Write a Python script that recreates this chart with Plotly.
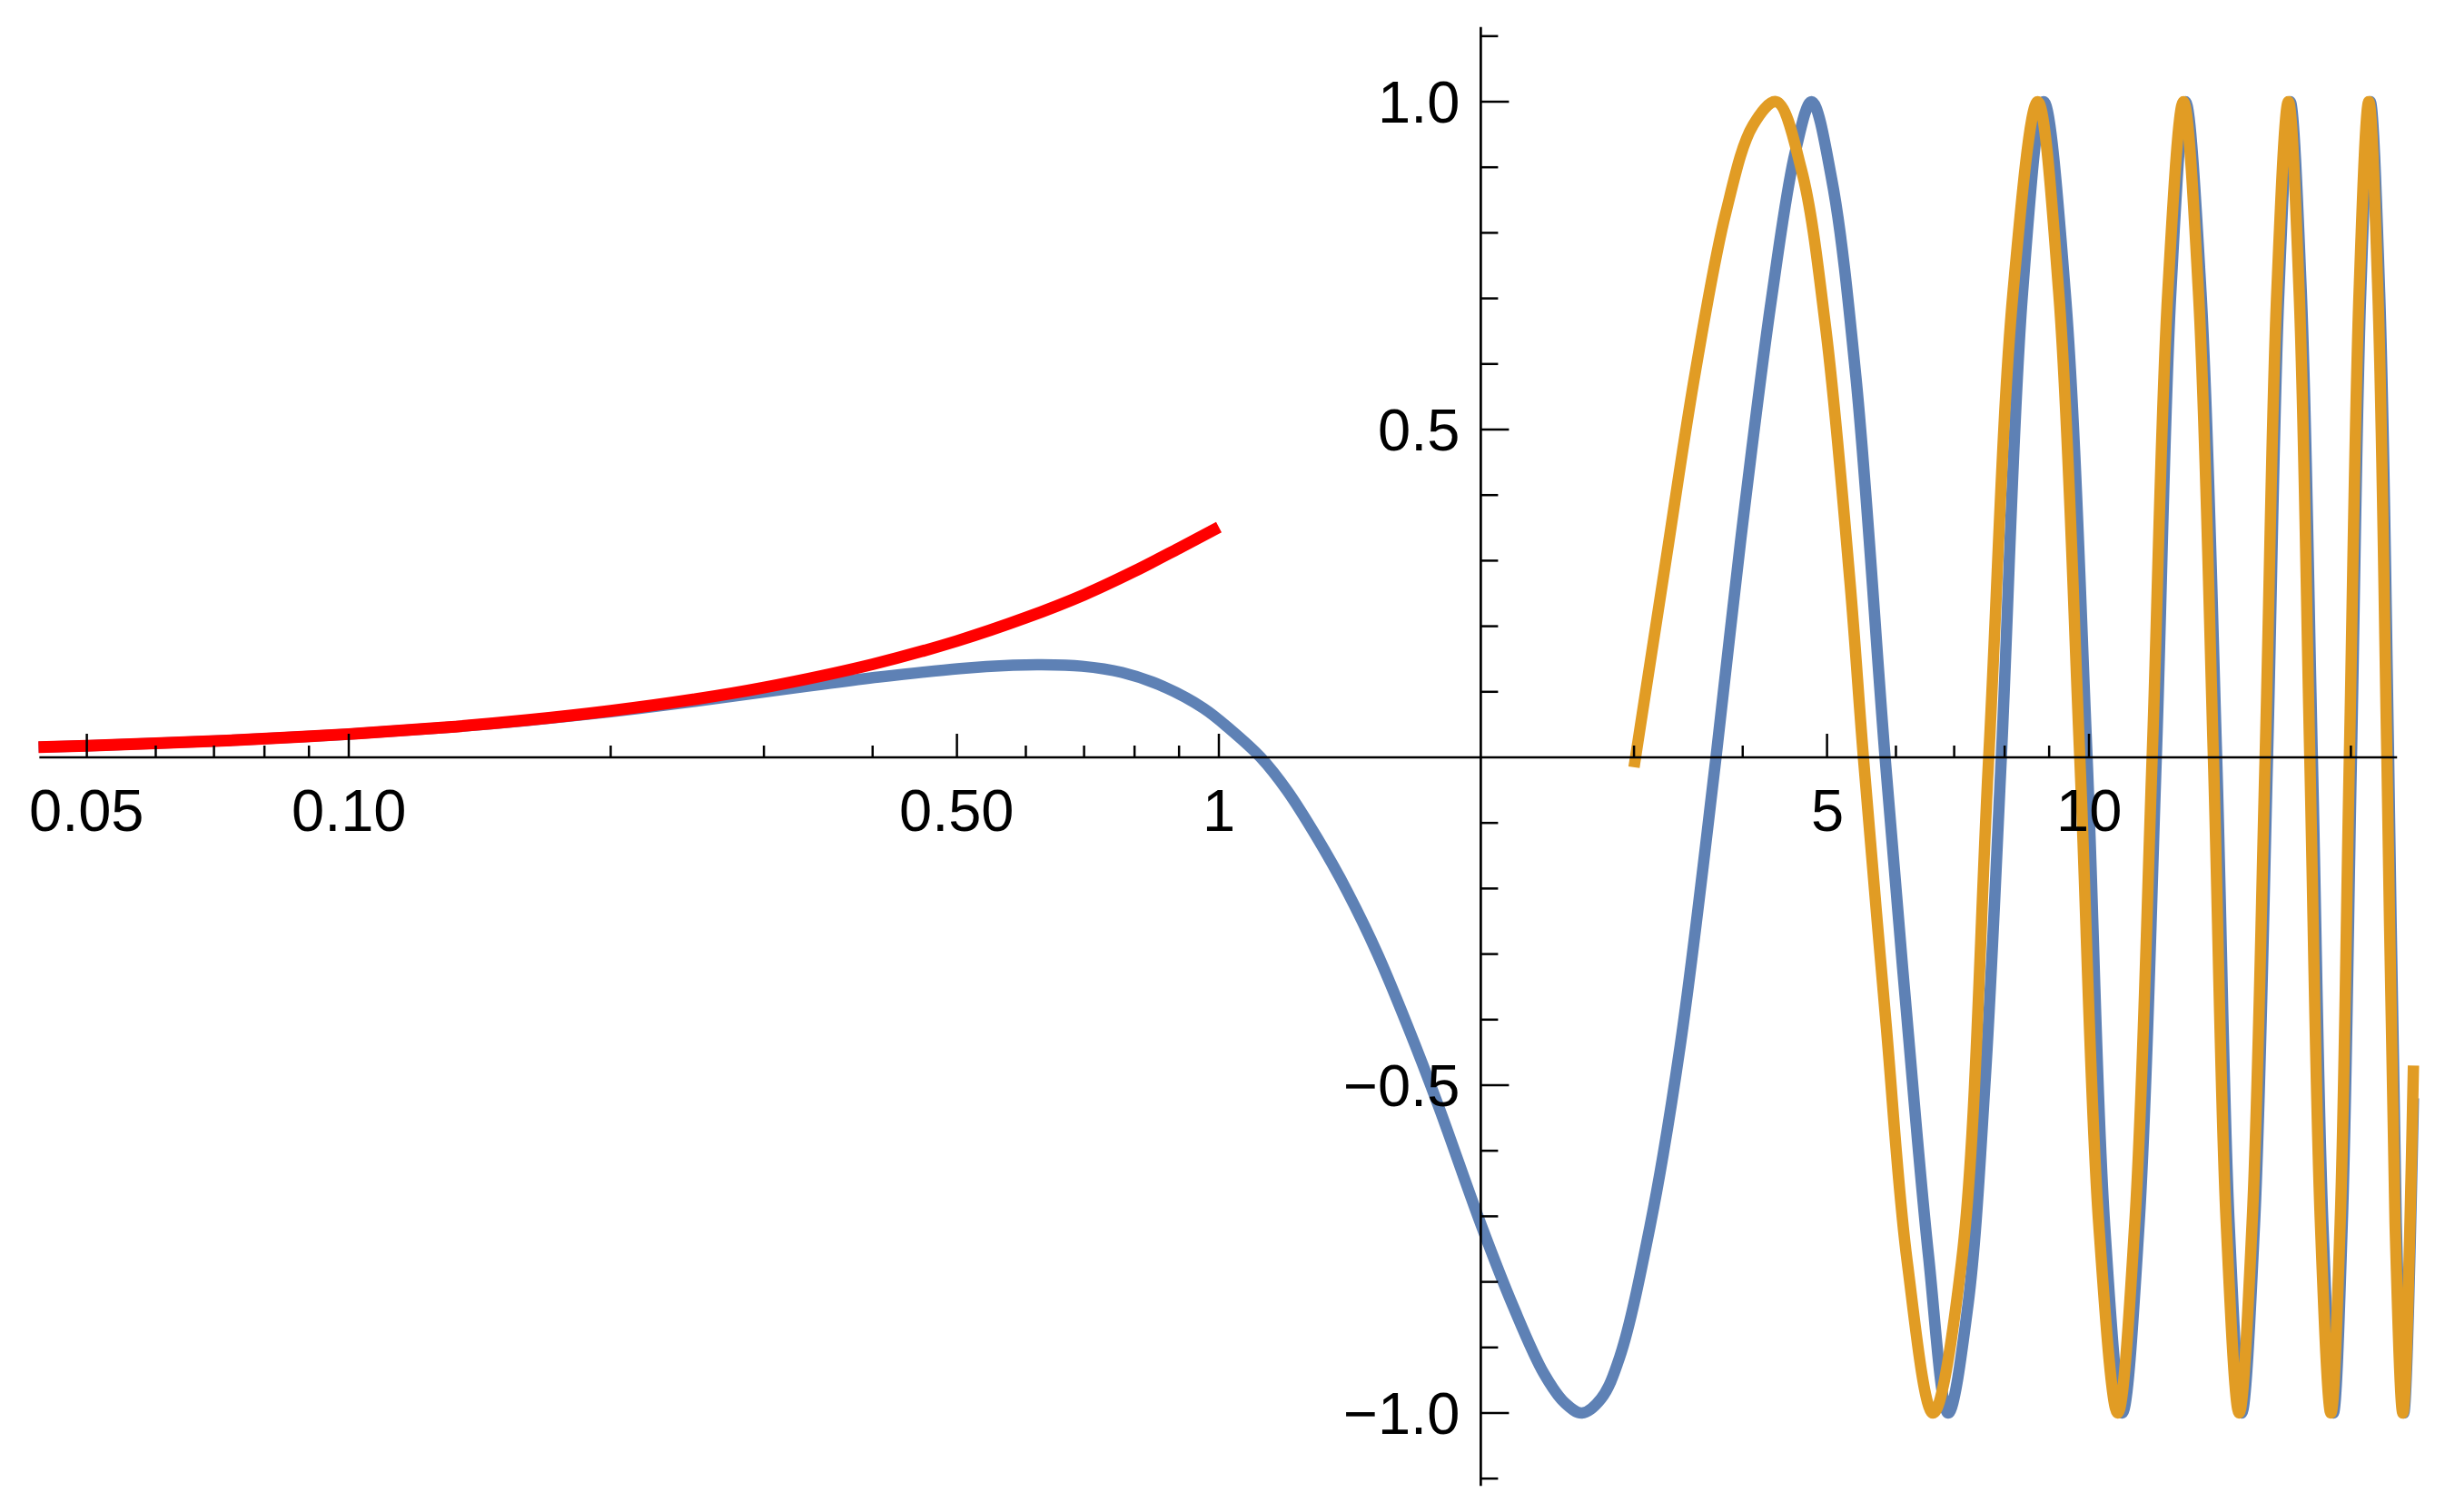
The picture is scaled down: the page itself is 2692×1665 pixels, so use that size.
import math
import plotly.graph_objects as go

# ---------------- data ----------------
red_x = [0.044, 0.05, 0.06, 0.075, 0.1, 0.13, 0.16, 0.2, 0.25, 0.3, 0.4, 0.5, 0.6, 0.7, 0.8, 0.9, 1.0]
red_y = [0.0157, 0.0178, 0.0213, 0.0266, 0.0355, 0.046, 0.0567, 0.071, 0.0887, 0.1065, 0.142, 0.1775,
         0.213, 0.248, 0.284, 0.319, 0.351]

blue_x = [0.044, 0.05, 0.06, 0.075, 0.1, 0.13, 0.16, 0.2, 0.25, 0.3, 0.35, 0.407, 0.504, 0.58, 0.624,
          0.696, 0.774, 0.862, 0.96, 1.03, 1.117, 1.197, 1.296, 1.404, 1.522, 1.648, 1.786,
          2.003, 2.18, 2.364, 2.5, 2.614, 2.75, 2.888, 3.13, 3.39, 3.727, 3.98, 4.312, 4.598, 4.8,
          5.06, 5.397, 5.83, 6.18, 6.54, 6.89, 7.26, 7.6, 7.93, 8.39, 8.87, 9.39, 9.95, 10.42, 10.92,
          11.42, 11.95, 12.42, 12.91, 13.45, 14.02, 14.49, 14.98, 15.5, 16.04, 16.53, 17.03, 17.54,
          18.06, 18.57, 19.09, 19.55, 20.03, 20.53, 21.05, 21.58, 22.1, 22.55, 23.0, 23.6]
blue_y = [0.0157, 0.0178, 0.0213, 0.0266, 0.0354, 0.0458, 0.0562, 0.0697, 0.0855, 0.0995, 0.1115,
          0.1225, 0.1355, 0.1405, 0.1413, 0.139, 0.1295, 0.1085, 0.075, 0.043, 0.0, -0.05, -0.122,
          -0.204, -0.3, -0.41, -0.53, -0.714, -0.838, -0.94, -0.985, -1.0, -0.978, -0.915, -0.715,
          -0.44, 0.0, 0.333, 0.695, 0.924, 1.0, 0.883, 0.58, 0.0, -0.4, -0.76, -1.0, -0.835, -0.49,
          0.0, 0.71, 1.0, 0.71, 0.0, -0.71, -1.0, -0.71, 0.0, 0.71, 1.0, 0.71, 0.0, -0.71, -1.0,
          -0.71, 0.0, 0.71, 1.0, 0.71, 0.0, -0.71, -1.0, -0.71, 0.0, 0.71, 1.0, 0.71, 0.0, -0.71,
          -1.0, -0.52]

orange_x = [3.0, 3.258, 3.529, 3.824, 4.11, 4.372, 4.671, 4.982, 5.311, 5.505, 5.845, 6.18, 6.62,
            7.14, 7.67, 8.18, 8.73, 9.23, 9.76, 10.26, 10.79, 11.29, 11.82, 12.32, 12.84, 13.36,
            13.9, 14.38, 14.88, 15.4, 15.94, 16.44, 16.95, 17.44, 17.94, 18.45, 18.97, 19.44,
            19.92, 20.44, 20.97, 21.48, 22.0, 22.48, 22.95, 23.6]
orange_y = [-0.015, 0.293, 0.588, 0.83, 0.964, 1.0, 0.897, 0.655, 0.27, 0.0, -0.406, -0.768, -1.0,
            -0.768, 0.0, 0.71, 1.0, 0.71, 0.0, -0.71, -1.0, -0.71, 0.0, 0.71, 1.0, 0.71, 0.0, -0.71,
            -1.0, -0.71, 0.0, 0.71, 1.0, 0.71, 0.0, -0.71, -1.0, -0.71, 0.0, 0.71, 1.0, 0.71, 0.0,
            -0.71, -1.0, -0.47]

x_major = [0.05, 0.1, 0.5, 1, 5, 10]
x_major_labels = ["0.05", "0.10", "0.50", "1", "5", "10"]
x_minor = [0.06, 0.07, 0.08, 0.09, 0.2, 0.3, 0.4, 0.6, 0.7, 0.8, 0.9, 3, 4, 6, 7, 8, 9, 20]
y_major = [-1.0, -0.5, 0.5, 1.0]
y_major_labels = ["\u22121.0", "\u22120.5", "0.5", "1.0"]
y_minor = [-1.1, -0.9, -0.8, -0.7, -0.6, -0.4, -0.3, -0.2, -0.1,
           0.1, 0.2, 0.3, 0.4, 0.6, 0.7, 0.8, 0.9, 1.1]

# ---------------- layout geometry ----------------
PAGE_OFF = 8                    # default <body> margin of the written page
W, H = 2692 - PAGE_OFF, 1665 - PAGE_OFF
X1PX, DEC = 1342.0 - PAGE_OFF, 958.0     # pixel of x = 1, pixels per decade
Y0PX, UNIT = 834.0 - PAGE_OFF, 722.0     # pixel of y = 0, pixels per unit
Y_AXIS_X = 2.0                 # x value where the vertical axis crosses
X_AXIS_RANGE = [0.0441, 22.6]
Y_AXIS_RANGE = [-1.111, 1.114]
XLAB_PY = 892 - PAGE_OFF

xr = [(0 - X1PX) / DEC, (W - X1PX) / DEC]
yr = [(Y0PX - H) / UNIT, Y0PX / UNIT]

BLUE = "rgb(94,129,181)"
ORANGE = "rgb(225,156,36)"
RED = "rgb(255,0,0)"
FONT = "Liberation Sans, Arial, sans-serif"
FS = 65

fig = go.Figure()
fig.add_trace(go.Scatter(x=blue_x, y=blue_y, mode="lines",
                         line=dict(color=BLUE, width=12.5, shape="spline", smoothing=1.0, simplify=False)))
fig.add_trace(go.Scatter(x=orange_x, y=orange_y, mode="lines",
                         line=dict(color=ORANGE, width=12.5, shape="spline", smoothing=1.0, simplify=False)))
fig.add_trace(go.Scatter(x=red_x, y=red_y, mode="lines",
                         line=dict(color=RED, width=13, shape="spline", smoothing=1.0, simplify=False)))

# axes (drawn in front of the curves)
fig.add_trace(go.Scatter(x=X_AXIS_RANGE, y=[0, 0], mode="lines",
                         line=dict(color="black", width=2.7)))
fig.add_trace(go.Scatter(x=[Y_AXIS_X, Y_AXIS_X], y=Y_AXIS_RANGE, mode="lines",
                         line=dict(color="black", width=2.7)))


def xticks(vals, length_px):
    xs, ys = [], []
    for v in vals:
        xs += [v, v, None]
        ys += [0, length_px / UNIT, None]
    return xs, ys


def yticks(vals, length_px):
    xs, ys = [], []
    end = Y_AXIS_X * 10 ** (length_px / DEC)
    for v in vals:
        xs += [Y_AXIS_X, end, None]
        ys += [v, v, None]
    return xs, ys


for (tx, ty) in (xticks(x_major, 26), xticks(x_minor, 13), yticks(y_major, 31), yticks(y_minor, 19)):
    fig.add_trace(go.Scatter(x=tx, y=ty, mode="lines", line=dict(color="black", width=2.5)))

annotations = []
for v, lab in zip(x_major, x_major_labels):
    px = X1PX + DEC * math.log10(v)
    annotations.append(dict(x=px / W, y=1 - XLAB_PY / H, xref="paper", yref="paper", text=lab,
                            showarrow=False, xanchor="center", yanchor="middle",
                            font=dict(family=FONT, size=FS, color="black")))
yax_px = X1PX + DEC * math.log10(Y_AXIS_X)
for v, lab in zip(y_major, y_major_labels):
    py = Y0PX - UNIT * v
    annotations.append(dict(x=(yax_px - 21) / W, y=1 - py / H, xref="paper", yref="paper", text=lab,
                            showarrow=False, xanchor="right", yanchor="middle",
                            font=dict(family=FONT, size=FS, color="black")))

fig.update_layout(
    width=W, height=H, autosize=False,
    margin=dict(l=0, r=0, t=0, b=0, pad=0),
    paper_bgcolor="white", plot_bgcolor="white",
    showlegend=False,
    annotations=annotations,
    xaxis=dict(type="log", range=xr, showgrid=False, zeroline=False, showline=False,
               showticklabels=False, ticks=""),
    yaxis=dict(range=yr, showgrid=False, zeroline=False, showline=False,
               showticklabels=False, ticks=""),
)

fig.write_html("out.html")
